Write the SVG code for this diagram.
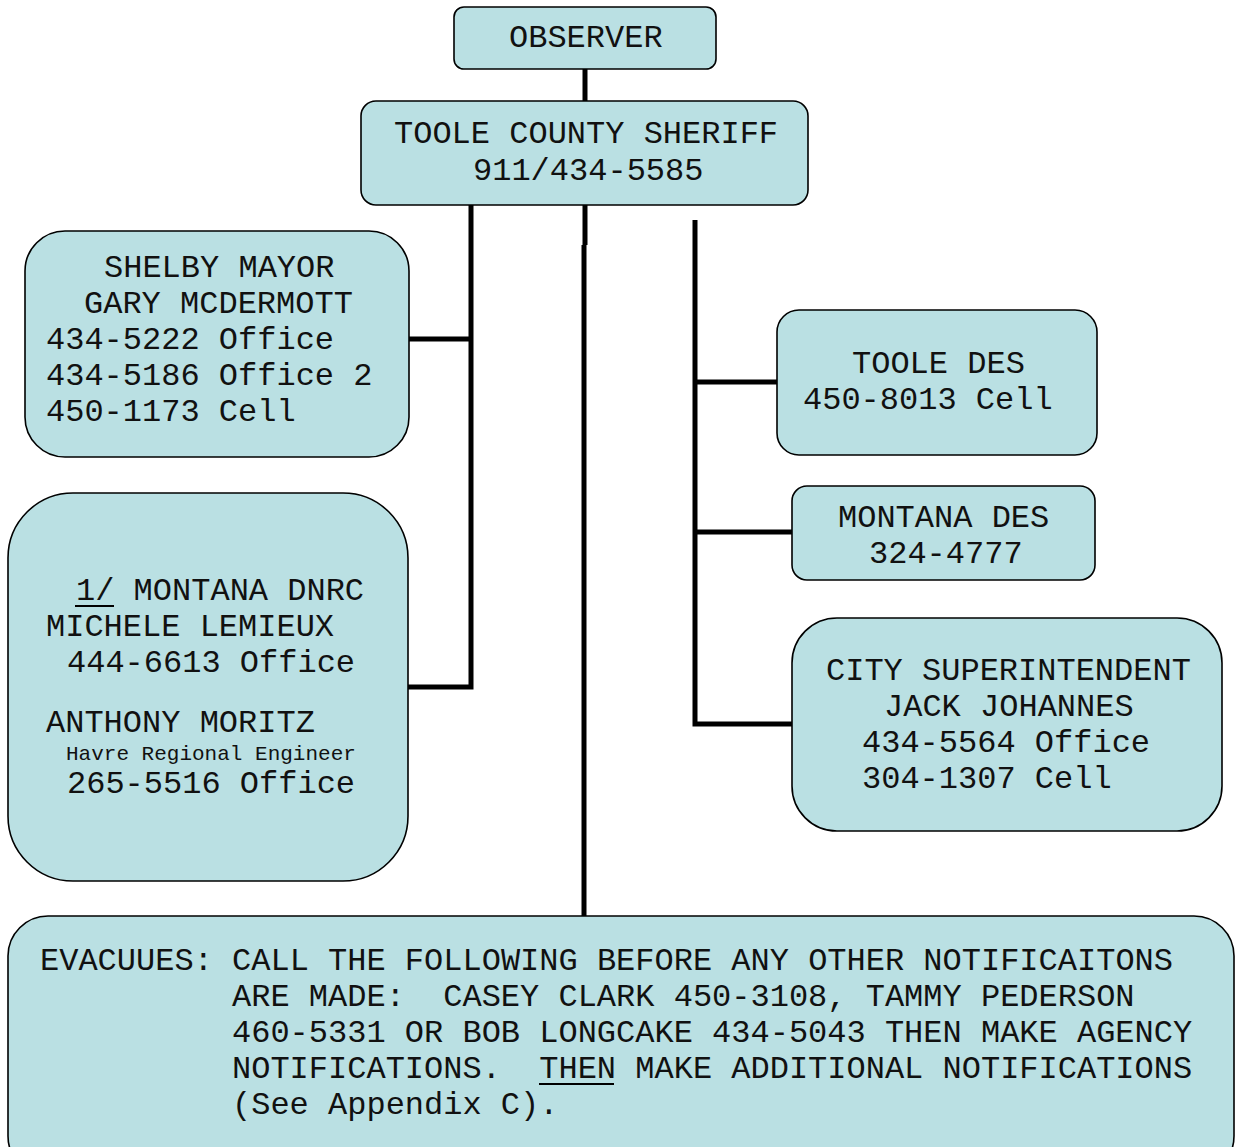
<svg xmlns="http://www.w3.org/2000/svg" width="1235" height="1147" viewBox="0 0 1235 1147">
<style>
.box{fill:#bae0e3;stroke:#000;stroke-width:1.6}
.t{font-family:"Liberation Mono","DejaVu Sans Mono",monospace;font-size:32px;fill:#111}
.s{font-family:"Liberation Mono","DejaVu Sans Mono",monospace;font-size:21px;fill:#111}
.c{stroke:#000;stroke-width:5;fill:none}
.u{stroke:#000;stroke-width:2}
</style>
<rect width="1235" height="1147" fill="#fff"/>
<g id="connectors">
<line class="c" x1="585" y1="69" x2="585" y2="101"/>
<polyline class="c" points="471,205 471,687 408,687"/>
<line class="c" x1="409" y1="339" x2="471" y2="339"/>
<line class="c" x1="585" y1="205" x2="585" y2="245"/>
<line class="c" x1="584" y1="245" x2="584" y2="916"/>
<polyline class="c" points="695,220 695,724 792,724"/>
<line class="c" x1="695" y1="382" x2="777" y2="382"/>
<line class="c" x1="695" y1="532" x2="792" y2="532"/>
</g>
<g id="observer">
<rect class="box" x="454" y="7" width="262" height="62" rx="10"/>
<text class="t" x="509" y="47">OBSERVER</text>
</g>
<g id="sheriff">
<rect class="box" x="361" y="101" width="447" height="104" rx="15"/>
<text class="t" x="394" y="143">TOOLE COUNTY SHERIFF</text>
<text class="t" x="473" y="180">911/434-5585</text>
</g>
<g id="shelby">
<rect class="box" x="25" y="231" width="384" height="226" rx="40"/>
<text class="t" x="104" y="277">SHELBY MAYOR</text>
<text class="t" x="84" y="313">GARY MCDERMOTT</text>
<text class="t" x="46" y="349">434-5222 Office</text>
<text class="t" x="46" y="385">434-5186 Office 2</text>
<text class="t" x="46" y="421">450-1173 Cell</text>
</g>
<g id="dnrc">
<rect class="box" x="8" y="493" width="400" height="388" rx="65"/>
<text class="t" x="76" y="600">1/ MONTANA DNRC</text>
<line class="u" x1="75" y1="606" x2="114" y2="606"/>
<text class="t" x="46" y="636">MICHELE LEMIEUX</text>
<text class="t" x="67" y="672">444-6613 Office</text>
<text class="t" x="46" y="732">ANTHONY MORITZ</text>
<text class="s" x="66" y="760">Havre Regional Engineer</text>
<text class="t" x="67" y="793">265-5516 Office</text>
</g>
<g id="toole-des">
<rect class="box" x="777" y="310" width="320" height="145" rx="22"/>
<text class="t" x="852" y="373">TOOLE DES</text>
<text class="t" x="803" y="409">450-8013 Cell</text>
</g>
<g id="montana-des">
<rect class="box" x="792" y="486" width="303" height="94" rx="15"/>
<text class="t" x="838" y="527">MONTANA DES</text>
<text class="t" x="869" y="563">324-4777</text>
</g>
<g id="city-superintendent">
<rect class="box" x="792" y="618" width="430" height="213" rx="45"/>
<text class="t" x="826" y="680">CITY SUPERINTENDENT</text>
<text class="t" x="884" y="716">JACK JOHANNES</text>
<text class="t" x="862" y="752">434-5564 Office</text>
<text class="t" x="862" y="788">304-1307 Cell</text>
</g>
<g id="evacuees">
<rect class="box" x="8" y="916" width="1226" height="260" rx="40"/>
<text class="t" x="40" y="970">EVACUUES: CALL THE FOLLOWING BEFORE ANY OTHER NOTIFICAITONS</text>
<text class="t" x="232" y="1006" xml:space="preserve">ARE MADE:  CASEY CLARK 450-3108, TAMMY PEDERSON</text>
<text class="t" x="232" y="1042">460-5331 OR BOB LONGCAKE 434-5043 THEN MAKE AGENCY</text>
<text class="t" x="232" y="1078" xml:space="preserve">NOTIFICATIONS.  THEN MAKE ADDITIONAL NOTIFICATIONS</text>
<line class="u" x1="539" y1="1084" x2="614" y2="1084"/>
<text class="t" x="232" y="1114">(See Appendix C).</text>
</g>
</svg>
